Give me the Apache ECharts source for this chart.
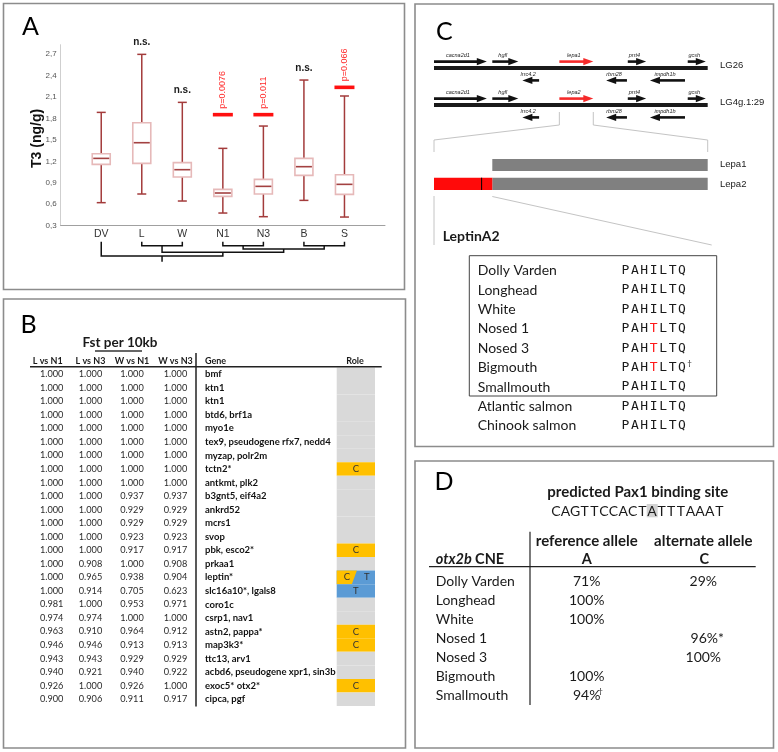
<!DOCTYPE html>
<html><head><meta charset="utf-8">
<script src="https://cdn.jsdelivr.net/npm/echarts@6/dist/echarts.min.js"></script>
<style>html,body{margin:0;padding:0;background:#fff}#c{width:778px;height:752px}</style>
</head><body><div id="c"></div>
<script>
// ---------------- Panel A data ----------------
const groups   = ['DV','L','W','N1','N3','B','S'];
const t3Min    = [0.622, 0.743, 0.645, 0.477, 0.426, 0.654, 0.421];
const t3Q1     = [1.157, 1.171, 0.980, 0.710, 0.743, 1.004, 0.738];
const t3Median = [1.241, 1.460, 1.083, 0.757, 0.850, 1.125, 0.878];
const t3Q3     = [1.306, 1.740, 1.181, 0.808, 0.948, 1.241, 1.013];
const t3Max    = [1.884, 2.695, 2.024, 1.381, 1.693, 2.336, 2.113];
const sigBarValue = [null, null, null, 1.852, 1.852, null, 2.234];
const sigText     = ['', 'n.s.', 'n.s.', 'p=0.0076', 'p=0.011', 'n.s.', 'p=0.066'];
const yTickValues = [0.3, 0.6, 0.9, 1.2, 1.5, 1.8, 2.1, 2.4, 2.7];
const yTickLabels = ['0,3','0,6','0,9','1,2','1,5','1,8','2,1','2,4','2,7'];
// dendrogram merges: [childA, childB, height]; leaves 0..6, merges numbered from 7
const dendroMerges = [[1,2,4],[3,4,4],[5,6,4],[8,9,7.3],[7,10,10.6],[0,11,14.3]];
const dendroRootTail = 20;

// ---------------- Panel B data ----------------
const fstLvsN1 = [1.000,1.000,1.000,1.000,1.000,1.000,1.000,1.000,1.000,1.000,1.000,1.000,1.000,1.000,1.000,1.000,1.000,0.981,0.974,0.963,0.946,0.943,0.940,0.926,0.900];
const fstLvsN3 = [1.000,1.000,1.000,1.000,1.000,1.000,1.000,1.000,1.000,1.000,1.000,1.000,1.000,1.000,0.908,0.965,0.914,1.000,0.974,0.910,0.946,0.943,0.921,1.000,0.906];
const fstWvsN1 = [1.000,1.000,1.000,1.000,1.000,1.000,1.000,1.000,1.000,0.937,0.929,0.929,0.923,0.917,1.000,0.938,0.705,0.953,1.000,0.964,0.913,0.929,0.940,0.926,0.911];
const fstWvsN3 = [1.000,1.000,1.000,1.000,1.000,1.000,1.000,1.000,1.000,0.937,0.929,0.929,0.923,0.917,0.908,0.904,0.623,0.971,1.000,0.912,0.913,0.929,0.922,1.000,0.917];
const fstGenes = ['bmf','ktn1','ktn1','btd6, brf1a','myo1e','tex9, pseudogene rfx7, nedd4','myzap, polr2m','tctn2*','antkmt, plk2','b3gnt5, eif4a2','ankrd52','mcrs1','svop','pbk, esco2*','prkaa1','leptin*','slc16a10*, lgals8','coro1c','csrp1, nav1','astn2, pappa*','map3k3*','ttc13, arv1','acbd6, pseudogene xpr1, sin3b','exoc5* otx2*','cipca, pgf'];
const fstRoles = ['','','','','','','','C','','','','','','C','','CT','T','','','C','C','','','C',''];
const fstHeaders = ['L vs N1','L vs N3','W vs N1','W vs N3'];

// ---------------- Panel C data ----------------
const geneNamesLG26 = ['cacna2d1','hgfl','lepa1','prrt4','gcsh','lrrc4.2','rbm28','impdh1b'];
const geneNamesLG4g = ['cacna2d1','hgfl','lepa2','prrt4','gcsh','lrrc4.2','rbm28','impdh1b'];
const geneStart  = [0.0, 21.3, 45.8, 70.8, 92.7, 32.3, 62.9, 78.9];
const geneEnd    = [19.3, 30.8, 58.2, 77.5, 99.3, 38.4, 70.5, 91.7];
const geneStrand = [1, 1, 1, 1, 1, -1, -1, -1];
const leptinGene = 2;
const chromosomes = ['LG26','LG4g.1:29'];
const lepa1Range = [21.3, 100];
const lepa2Extra = [0, 21.3];
const lepa2Mark  = 17.4;
const alignSpecies = ['Dolly Varden','Longhead','White','Nosed 1','Nosed 3','Bigmouth','Smallmouth','Atlantic salmon','Chinook salmon'];
const alignSeq     = ['PAHILTQ','PAHILTQ','PAHILTQ','PAHTLTQ','PAHTLTQ','PAHTLTQ','PAHILTQ','PAHILTQ','PAHILTQ'];
const alignNote    = ['','','','','','†','','',''];

// ---------------- Panel D data ----------------
const pax1Site = 'CAGTTCCACTATTTAAAT';
const pax1SnpIndex = 10;
const cneSpecies = ['Dolly Varden','Longhead','White','Nosed 1','Nosed 3','Bigmouth','Smallmouth'];
const refAllelePct = [71, 100, 100, null, null, 100, 94];
const altAllelePct = [29, null, null, 96, 100, null, null];
const refNote = ['','','','','','','†'];
const altNote = ['','','','*','','',''];

// ---------------- styles / layout ----------------
const SANS = '"Liberation Sans", Arial, sans-serif';
const CAL = 'Lato, "Open Sans", sans-serif';
const MONO = '"DejaVu Sans Mono", monospace';
const TXT = '#1a1a1a';
const WHISKER = '#a33b3b';

const chart = echarts.init(document.getElementById('c'));

function renderBox(params, api) {
  const x = api.value(0);
  const pMin = api.coord([x, api.value(1)]);
  const pQ1 = api.coord([x, api.value(2)]);
  const pMed = api.coord([x, api.value(3)]);
  const pQ3 = api.coord([x, api.value(4)]);
  const pMax = api.coord([x, api.value(5)]);
  const cx = pMin[0], bw = 18, cw = 9;
  const ws = {stroke: WHISKER, lineWidth: 1.5};
  return {type: 'group', children: [
    {type: 'line', shape: {x1: cx, y1: pMax[1], x2: cx, y2: pQ3[1]}, style: ws},
    {type: 'line', shape: {x1: cx, y1: pQ1[1], x2: cx, y2: pMin[1]}, style: ws},
    {type: 'line', shape: {x1: cx - cw/2, y1: pMax[1], x2: cx + cw/2, y2: pMax[1]}, style: ws},
    {type: 'line', shape: {x1: cx - cw/2, y1: pMin[1], x2: cx + cw/2, y2: pMin[1]}, style: ws},
    {type: 'rect', shape: {x: cx - bw/2, y: pQ3[1], width: bw, height: pQ1[1] - pQ3[1]}, style: {fill: '#fff', stroke: '#e6b9b9', lineWidth: 1.6}},
    {type: 'line', shape: {x1: cx - bw/2 + 1, y1: pMed[1], x2: cx + bw/2 - 1, y2: pMed[1]}, style: {stroke: '#a34141', lineWidth: 1.6}}
  ]};
}

function renderSig(params, api) {
  const i = params.dataIndex;
  const x = api.value(0);
  const kids = [];
  const bar = sigBarValue[i];
  const txt = sigText[i];
  if (bar != null) {
    const p = api.coord([x, bar]);
    kids.push({type: 'rect', shape: {x: p[0] - 10, y: p[1] - 1.8, width: 20, height: 3.6}, style: {fill: '#ff1010'}});
    kids.push({type: 'text', x: p[0], y: p[1] - 6, rotation: Math.PI / 2,
      style: {text: txt, font: '9px ' + SANS, fill: '#ff2a2a', align: 'left', verticalAlign: 'middle'}});
  } else if (txt) {
    const p = api.coord([x, api.value(1)]);
    kids.push({type: 'text', style: {text: txt, x: p[0], y: p[1] - 12, font: 'bold 10px ' + SANS, fill: TXT, align: 'center', verticalAlign: 'middle'}});
  }
  return {type: 'group', children: kids};
}

// dendrogram segments built from merges
const dX = groups.map((g, i) => i + 1), dY = groups.map(() => 0);
const dendroSegs = [];
dendroMerges.forEach(([a, b, h]) => {
  dendroSegs.push({coords: [[dX[a], dY[a]], [dX[a], h], [dX[b], h], [dX[b], dY[b]]]});
  dX.push((dX[a] + dX[b]) / 2); dY.push(h);
});
const rootI = dX.length - 1;
dendroSegs.push({coords: [[dX[rootI], dY[rootI]], [dX[rootI], dendroRootTail]]});

// Panel B rows
const FST_COL_X = [51.7, 90.5, 132, 175.5];
const GENE_X = 205, ROLE_X0 = 336.7, ROLE_X1 = 375;
const ROLE_COL = {C: '#ffc000', T: '#5b9bd5'};
function renderFstRow(params, api) {
  const i = params.dataIndex;
  const y = api.coord([0, i])[1];
  const h = api.size([0, 1])[1];
  const top = y - h / 2, bot = y + h / 2;
  const kids = [];
  const role = fstRoles[i];
  const rw = ROLE_X1 - ROLE_X0;
  const cx = (ROLE_X0 + ROLE_X1) / 2;
  if (role === 'CT') {
    kids.push({type: 'rect', shape: {x: ROLE_X0, y: top, width: rw, height: h}, style: {fill: ROLE_COL.T}});
    kids.push({type: 'polygon', shape: {points: [[ROLE_X0, top], [cx + 1, top], [cx - 4, bot], [ROLE_X0, bot]]}, style: {fill: ROLE_COL.C}});
    kids.push({type: 'text', style: {text: 'C', x: cx - 9, y: y, font: '9.5px ' + CAL, fill: '#333', align: 'center', verticalAlign: 'middle'}});
    kids.push({type: 'text', style: {text: 'T', x: cx + 11, y: y, font: '9.5px ' + CAL, fill: '#333', align: 'center', verticalAlign: 'middle'}});
  } else {
    kids.push({type: 'rect', shape: {x: ROLE_X0, y: top, width: rw, height: h}, style: {fill: role ? ROLE_COL[role] : '#d9d9d9'}});
    if (role) kids.push({type: 'text', style: {text: role, x: cx, y: y, font: '9.5px ' + CAL, fill: '#333', align: 'center', verticalAlign: 'middle'}});
  }
  [fstLvsN1[i], fstLvsN3[i], fstWvsN1[i], fstWvsN3[i]].forEach((v, k) => {
    kids.push({type: 'text', style: {text: v.toFixed(3), x: FST_COL_X[k], y: y, font: '9.2px ' + CAL, fill: '#2a2a2a', align: 'center', verticalAlign: 'middle'}});
  });
  kids.push({type: 'text', style: {text: fstGenes[i], x: GENE_X, y: y, font: 'bold 9.5px ' + CAL, fill: '#111', align: 'left', verticalAlign: 'middle'}});
  return {type: 'group', children: kids};
}

// Panel C genes
const TRACK_Y = [68, 105];
function renderGene(params, api) {
  const start = api.value(0), end = api.value(1), track = api.value(2), g = api.value(3);
  const xs = api.coord([start, 0])[0], xe = api.coord([end, 0])[0];
  const strand = geneStrand[g];
  const y = TRACK_Y[track] + (strand > 0 ? -6.4 : 12.4);
  const col = g === leptinGene ? '#f52a2a' : '#111';
  const head = 10, hh = 3.6;
  let shaft, tri;
  if (strand > 0) {
    shaft = {x1: xs, y1: y, x2: xe - head + 1, y2: y};
    tri = [[xe, y], [xe - head, y - hh], [xe - head, y + hh]];
  } else {
    shaft = {x1: xs + head - 1, y1: y, x2: xe, y2: y};
    tri = [[xs, y], [xs + head, y - hh], [xs + head, y + hh]];
  }
  const name = (track === 0 ? geneNamesLG26 : geneNamesLG4g)[g];
  return {type: 'group', children: [
    {type: 'line', shape: shaft, style: {stroke: col, lineWidth: 2.6}},
    {type: 'polygon', shape: {points: tri}, style: {fill: col}},
    {type: 'text', style: {text: name, x: (xs + xe) / 2 - 2.5, y: y - 6, font: 'italic 5.5px ' + SANS, fill: '#222', align: 'center', verticalAlign: 'middle'}}
  ]};
}
function renderCDecor(params, api) {
  const X = v => api.coord([v, 0])[0];
  const kids = [];
  TRACK_Y.forEach((ty, t) => {
    kids.push({type: 'rect', shape: {x: X(0), y: ty - 2, width: X(100) - X(0), height: 4}, style: {fill: '#1a1a1a'}});
    kids.push({type: 'text', style: {text: chromosomes[t], x: 720, y: ty - 3, font: '9.5px ' + SANS, fill: TXT, align: 'left', verticalAlign: 'middle'}});
  });
  const fs = {stroke: '#c4c4c4', lineWidth: 1, fill: null};
  const ls = X(geneStart[leptinGene]), le = X(geneEnd[leptinGene]);
  kids.push({type: 'polyline', shape: {points: [[ls, 112], [ls, 125], [X(0), 140], [X(0), 152]]}, style: fs});
  kids.push({type: 'polyline', shape: {points: [[le, 112], [le, 125], [X(100), 140], [X(100), 152]]}, style: fs});
  // protein bars
  kids.push({type: 'rect', shape: {x: X(lepa1Range[0]), y: 159, width: X(lepa1Range[1]) - X(lepa1Range[0]), height: 12}, style: {fill: '#808080'}});
  kids.push({type: 'rect', shape: {x: X(lepa1Range[0]), y: 177.7, width: X(lepa1Range[1]) - X(lepa1Range[0]), height: 12.3}, style: {fill: '#808080'}});
  kids.push({type: 'rect', shape: {x: X(lepa2Extra[0]), y: 177.7, width: X(lepa2Extra[1]) - X(lepa2Extra[0]), height: 12.3}, style: {fill: '#ff0a0a'}});
  kids.push({type: 'line', shape: {x1: X(lepa2Mark), y1: 177.7, x2: X(lepa2Mark), y2: 190}, style: {stroke: '#000', lineWidth: 1}});
  kids.push({type: 'text', style: {text: 'Lepa1', x: 720, y: 164.5, font: '9.5px ' + SANS, fill: TXT, align: 'left', verticalAlign: 'middle'}});
  kids.push({type: 'text', style: {text: 'Lepa2', x: 720, y: 184, font: '9.5px ' + SANS, fill: TXT, align: 'left', verticalAlign: 'middle'}});
  kids.push({type: 'line', shape: {x1: X(0), y1: 196, x2: X(0), y2: 245}, style: fs});
  kids.push({type: 'line', shape: {x1: X(lepa2Extra[1]), y1: 196.5, x2: X(100) + 4, y2: 245}, style: fs});
  return {type: 'group', children: kids};
}

// Panel C alignment
const SEQ_X0 = 620.7, SEQ_DX = 9.43;
function renderAlign(params, api) {
  const i = params.dataIndex;
  const y = api.coord([0, i])[1];
  const kids = [{type: 'text', style: {text: alignSpecies[i], x: 477.7, y: y, font: '14px ' + CAL, fill: TXT, align: 'left', verticalAlign: 'middle'}}];
  const seq = alignSeq[i], ref = alignSeq[0];
  for (let k = 0; k < seq.length; k++) {
    kids.push({type: 'text', style: {text: seq[k], x: SEQ_X0 + SEQ_DX * (k + 0.5), y: y, font: '13px ' + MONO, fill: seq[k] !== ref[k] ? '#ff1a1a' : TXT, align: 'center', verticalAlign: 'middle'}});
  }
  if (alignNote[i]) kids.push({type: 'text', style: {text: alignNote[i], x: SEQ_X0 + SEQ_DX * seq.length + 0.5, y: y - 4, font: '8px ' + CAL, fill: TXT, align: 'left', verticalAlign: 'middle'}});
  return {type: 'group', children: kids};
}

// Panel D table
function renderCne(params, api) {
  const i = params.dataIndex;
  const y = api.coord([0, i])[1];
  const kids = [{type: 'text', style: {text: cneSpecies[i], x: 435.7, y: y, font: '14px ' + CAL, fill: TXT, align: 'left', verticalAlign: 'middle'}}];
  const cell = (v, note, x) => {
    if (v == null) return;
    if (note === '*') {
      kids.push({type: 'text', style: {text: v + '%*', x: x + 4, y: y, font: '14px ' + CAL, fill: TXT, align: 'center', verticalAlign: 'middle'}});
      return;
    }
    kids.push({type: 'text', style: {text: v + '%', x: x, y: y, font: '14px ' + CAL, fill: TXT, align: 'center', verticalAlign: 'middle'}});
    if (note) kids.push({type: 'text', style: {text: note, x: x + 11.5, y: y - 4, font: '8px ' + CAL, fill: TXT, align: 'left', verticalAlign: 'middle'}});
  };
  cell(refAllelePct[i], refNote[i], 586.7);
  cell(altAllelePct[i], altNote[i], 703.3);
  return {type: 'group', children: kids};
}

// ---------------- static graphic ----------------
const G = [];
const border = (x, y, w, h) => G.push({type: 'rect', shape: {x, y, width: w, height: h}, style: {fill: 'transparent', stroke: '#8c8c8c', lineWidth: 1.6}, z: 10});
border(3.5, 3.5, 401, 286);
border(3.5, 299, 402, 449);
border(415, 4, 358.5, 442.5);
border(415, 461, 358.5, 287);
const letter = (t, x, y) => G.push({type: 'text', x: x, y: y, style: {text: t, font: '25px ' + CAL, fill: '#000', align: 'left', verticalAlign: 'middle'}});
letter('A', 22, 27); letter('B', 20.5, 325); letter('C', 436, 32); letter('D', 434.5, 482);
G.push({type: 'text', x: 36.7, y: 138.4, rotation: Math.PI / 2, style: {text: 'T3 (ng/g)', font: 'bold 14px ' + SANS, fill: '#111', align: 'center', verticalAlign: 'middle'}});
// Panel B header
G.push({type: 'text', style: {text: 'Fst per 10kb', x: 120, y: 343, font: 'bold 13.5px ' + CAL, fill: TXT, align: 'center', verticalAlign: 'middle'}});
G.push({type: 'line', shape: {x1: 95, y1: 351, x2: 142, y2: 351}, style: {stroke: '#333', lineWidth: 1.6}});
fstHeaders.forEach((h, k) => G.push({type: 'text', style: {text: h, x: FST_COL_X[k] - (k === 0 ? 4 : 0), y: 361.3, font: 'bold 9px ' + CAL, fill: TXT, align: 'center', verticalAlign: 'middle'}}));
G.push({type: 'text', style: {text: 'Gene', x: GENE_X, y: 361.3, font: 'bold 9px ' + CAL, fill: TXT, align: 'left', verticalAlign: 'middle'}});
G.push({type: 'text', style: {text: 'Role', x: 355, y: 361.3, font: 'bold 9px ' + CAL, fill: TXT, align: 'center', verticalAlign: 'middle'}});
G.push({type: 'line', shape: {x1: 30, y1: 366.7, x2: 381.7, y2: 366.7}, style: {stroke: '#222', lineWidth: 1.5}, z: 5});
G.push({type: 'line', shape: {x1: 196, y1: 353, x2: 196, y2: 706.5}, style: {stroke: '#222', lineWidth: 1.5}, z: 5});
// Panel C
G.push({type: 'text', style: {text: 'LeptinA2', x: 442.7, y: 236.7, font: 'bold 14px ' + CAL, fill: TXT, align: 'left', verticalAlign: 'middle'}});
G.push({type: 'rect', shape: {x: 469.3, y: 255.7, width: 247.4, height: 140.3}, style: {fill: 'transparent', stroke: '#444', lineWidth: 1}});
// Panel D header
G.push({type: 'text', style: {text: 'predicted Pax1 binding site', x: 637.8, y: 492.3, font: 'bold 15px ' + CAL, fill: TXT, align: 'center', verticalAlign: 'middle'}});
const SITE_X0 = 551, SITE_DX = 9.62;
G.push({type: 'rect', shape: {x: SITE_X0 + SITE_DX * pax1SnpIndex - 0.5, y: 504, width: 11, height: 13.3}, style: {fill: '#d3d3d3'}});
for (let k = 0; k < pax1Site.length; k++) {
  G.push({type: 'text', style: {text: pax1Site[k], x: SITE_X0 + SITE_DX * (k + 0.5), y: 511, font: '14px ' + CAL, fill: TXT, align: 'center', verticalAlign: 'middle'}});
}
G.push({type: 'text', style: {text: 'reference allele', x: 586.7, y: 540.7, font: 'bold 15px ' + CAL, fill: TXT, align: 'center', verticalAlign: 'middle'}});
G.push({type: 'text', style: {text: 'alternate allele', x: 703.3, y: 540.7, font: 'bold 15px ' + CAL, fill: TXT, align: 'center', verticalAlign: 'middle'}});
G.push({type: 'text', style: {text: 'A', x: 586.7, y: 559, font: 'bold 14.5px ' + CAL, fill: TXT, align: 'center', verticalAlign: 'middle'}});
G.push({type: 'text', style: {text: 'C', x: 704.3, y: 559, font: 'bold 14.5px ' + CAL, fill: TXT, align: 'center', verticalAlign: 'middle'}});
G.push({type: 'text', style: {text: '{i|otx2b} {b|CNE}', x: 435.7, y: 559, align: 'left', verticalAlign: 'middle',
  rich: {i: {font: 'italic bold 14.5px ' + CAL, fill: TXT}, b: {font: 'bold 14.5px ' + CAL, fill: TXT}}}});
G.push({type: 'line', shape: {x1: 429, y1: 566.7, x2: 755.7, y2: 566.7}, style: {stroke: '#222', lineWidth: 1.3}});
G.push({type: 'line', shape: {x1: 530, y1: 531.7, x2: 530, y2: 705}, style: {stroke: '#222', lineWidth: 1.2}});

const option = {
  animation: false,
  backgroundColor: '#fff',
  grid: [
    {left: 60.7, top: 44.7, width: 324.3, height: 181},
    {left: 60.7, top: 241.7, width: 324.3, height: 20},
    {left: 30, top: 367.5, width: 352, height: 338.5},
    {left: 434, top: 50, width: 273.7, height: 150},
    {left: 469, top: 261, width: 247, height: 174.6},
    {left: 429, top: 572.25, width: 326, height: 132.3}
  ],
  xAxis: [
    {gridIndex: 0, type: 'category', data: [''].concat(groups, ['']), boundaryGap: false,
      axisLine: {lineStyle: {color: '#a0a0a0', width: 1}}, axisTick: {show: false}, splitLine: {show: false},
      axisLabel: {interval: 0, margin: 3, fontSize: 10.5, color: '#333', fontFamily: SANS}},
    {gridIndex: 1, type: 'value', min: 0, max: 8, show: false},
    {gridIndex: 2, type: 'value', min: 0, max: 1, show: false},
    {gridIndex: 3, type: 'value', min: 0, max: 100, show: false},
    {gridIndex: 4, type: 'value', min: 0, max: 1, show: false},
    {gridIndex: 5, type: 'value', min: 0, max: 1, show: false}
  ],
  yAxis: [
    {gridIndex: 0, type: 'value', min: yTickValues[0], max: 2.83, interval: 0.3,
      axisLine: {show: true, lineStyle: {color: '#cfcfcf', width: 1}}, axisTick: {show: false}, splitLine: {show: false},
      axisLabel: {showMaxLabel: false, margin: 4, fontSize: 8, color: '#555', fontFamily: SANS,
        formatter: v => { const k = yTickValues.findIndex(t => Math.abs(t - v) < 1e-6); return k >= 0 ? yTickLabels[k] : ''; }}},
    {gridIndex: 1, type: 'value', min: 0, max: 20, inverse: true, show: false},
    {gridIndex: 2, type: 'category', data: fstGenes.map((g, i) => String(i)), inverse: true, show: false},
    {gridIndex: 3, type: 'value', min: 0, max: 1, show: false},
    {gridIndex: 4, type: 'category', data: alignSpecies, inverse: true, show: false},
    {gridIndex: 5, type: 'category', data: cneSpecies, inverse: true, show: false}
  ],
  graphic: {elements: G},
  series: [
    {type: 'custom', xAxisIndex: 0, yAxisIndex: 0, renderItem: renderBox, clip: false, silent: true,
      encode: {x: 0, y: [1, 2, 3, 4, 5]},
      data: groups.map((g, i) => [i + 1, t3Min[i], t3Q1[i], t3Median[i], t3Q3[i], t3Max[i]])},
    {type: 'custom', xAxisIndex: 0, yAxisIndex: 0, renderItem: renderSig, clip: false, silent: true,
      encode: {x: 0, y: 1}, data: groups.map((g, i) => [i + 1, t3Max[i]])},
    {type: 'lines', coordinateSystem: 'cartesian2d', xAxisIndex: 1, yAxisIndex: 1, polyline: true, silent: true,
      lineStyle: {color: '#111', width: 1.5, opacity: 1}, data: dendroSegs},
    {type: 'custom', xAxisIndex: 2, yAxisIndex: 2, renderItem: renderFstRow, clip: false, silent: true,
      encode: {x: 0, y: 1}, data: fstGenes.map((g, i) => [0, i])},
    {type: 'custom', xAxisIndex: 3, yAxisIndex: 3, renderItem: renderCDecor, clip: false, silent: true,
      encode: {x: 0, y: 1}, data: [[0, 0]]},
    {type: 'custom', xAxisIndex: 3, yAxisIndex: 3, renderItem: renderGene, clip: false, silent: true,
      encode: {x: [0, 1], y: 2},
      data: [0, 1].flatMap(t => geneStart.map((s, g) => [s, geneEnd[g], t, g]))},
    {type: 'custom', xAxisIndex: 4, yAxisIndex: 4, renderItem: renderAlign, clip: false, silent: true,
      encode: {x: 0, y: 1}, data: alignSpecies.map((s, i) => [0, i])},
    {type: 'custom', xAxisIndex: 5, yAxisIndex: 5, renderItem: renderCne, clip: false, silent: true,
      encode: {x: 0, y: 1}, data: cneSpecies.map((s, i) => [0, i])}
  ]
};
chart.setOption(option);
</script></body></html>
